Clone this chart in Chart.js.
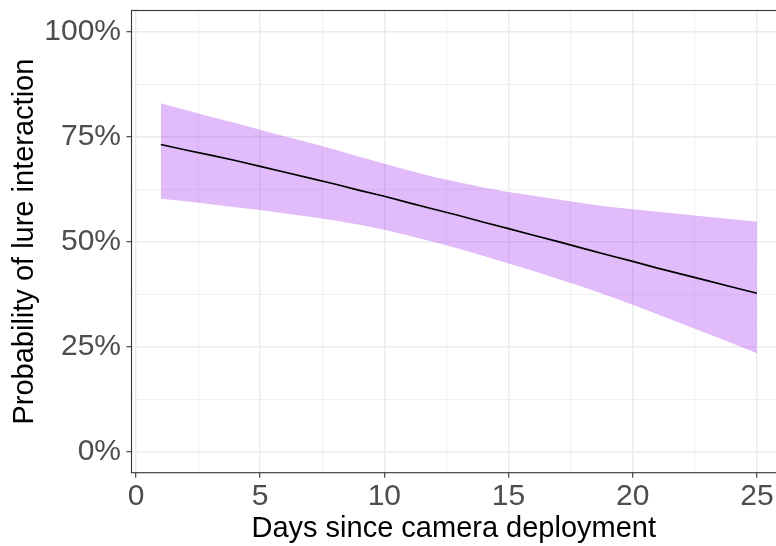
<!DOCTYPE html>
<html>
<head>
<meta charset="utf-8">
<script src="https://cdn.jsdelivr.net/npm/chart.js@4/dist/chart.umd.min.js"></script>
<style>
  html, body { margin: 0; padding: 0; background: #ffffff; overflow: hidden; }
  #wrap { width: 776px; height: 546px; position: relative; }
</style>
</head>
<body>
<div id="wrap"><canvas id="c" width="776" height="546"></canvas></div>
<script>
// Days since deployment and fitted probability of lure interaction (%)
const days = [1, 2, 3, 4, 5, 6, 7, 8, 9, 10, 11, 12, 13, 14, 15, 16, 17, 18, 19, 20, 21, 22, 23, 24, 25];
const fitPct = [73.1, 71.8, 70.6, 69.3, 67.9, 66.5, 65.1, 63.7, 62.2, 60.8, 59.2, 57.7, 56.2, 54.6, 53.1,
                51.5, 50.0, 48.4, 46.8, 45.3, 43.7, 42.2, 40.7, 39.2, 37.7];
// 95% confidence band
const upperPct = [82.9, 81.3, 79.7, 78.2, 76.6, 75.0, 73.5, 71.9, 70.2, 68.5, 66.9, 65.4, 64.1, 62.9, 61.8,
                  60.9, 60.0, 59.1, 58.3, 57.7, 57.1, 56.5, 55.9, 55.3, 54.7];
const lowerPct = [60.2, 59.6, 58.9, 58.2, 57.5, 56.7, 55.9, 55.0, 54.0, 52.8, 51.4, 49.9, 48.3, 46.6, 44.8,
                  43.0, 41.1, 39.2, 37.1, 35.0, 32.7, 30.4, 28.1, 25.8, 23.4];

// Axis ticks (major labelled, minor unlabelled)
const xTicks = [0, 5, 10, 15, 20, 25];
const xTickLabels = ['0', '5', '10', '15', '20', '25'];
const xMinor = [2.5, 7.5, 12.5, 17.5, 22.5];
const yTicks = [0, 25, 50, 75, 100];
const yTickLabels = ['0%', '25%', '50%', '75%', '100%'];
const yMinor = [12.5, 37.5, 62.5, 87.5];

const xTitle = 'Days since camera deployment';
const yTitle = 'Probability of lure interaction';

const FONT = '"Liberation Sans", Arial, Helvetica, sans-serif';
const toPts = vals => days.map((d, i) => ({ x: d, y: vals[i] }));

const isMajorX = v => xTicks.indexOf(v) !== -1;
const isMajorY = v => yTicks.indexOf(v) !== -1;

// Panel frame (top/left/bottom; right side runs off the canvas)
const panelBorder = {
  id: 'panelBorder',
  afterDraw(chart) {
    const { ctx, chartArea: a } = chart;
    ctx.save();
    ctx.strokeStyle = '#333333';
    ctx.lineWidth = 1.1;
    ctx.strokeRect(a.left, a.top, a.right - a.left + 20, a.bottom - a.top);
    ctx.restore();
  }
};

new Chart(document.getElementById('c'), {
  type: 'line',
  data: {
    datasets: [
      {
        label: 'fit',
        data: toPts(fitPct),
        borderColor: '#000000',
        borderWidth: 1.7,
        pointRadius: 0,
        fill: false,
        tension: 0
      },
      {
        label: 'upper',
        data: toPts(upperPct),
        borderWidth: 0,
        borderColor: 'rgba(0,0,0,0)',
        pointRadius: 0,
        backgroundColor: 'rgba(160,32,240,0.3)',
        fill: '+1',
        tension: 0
      },
      {
        label: 'lower',
        data: toPts(lowerPct),
        borderWidth: 0,
        borderColor: 'rgba(0,0,0,0)',
        pointRadius: 0,
        fill: false,
        tension: 0
      }
    ]
  },
  options: {
    responsive: false,
    animation: false,
    events: [],
    layout: { padding: { top: 10.5, left: 0, right: 0, bottom: 0 } },
    plugins: { legend: { display: false }, tooltip: { enabled: false } },
    scales: {
      x: {
        type: 'linear',
        min: -0.18,
        max: 25.77,
        afterBuildTicks: s => { s.ticks = xTicks.concat(xMinor).sort((a, b) => a - b).map(v => ({ value: v })); },
        afterFit: s => { s.height = 73.3; s.paddingLeft = 0; s.paddingRight = 0; },
        ticks: {
          autoSkip: false,
          maxRotation: 0,
          padding: 1,
          color: '#4D4D4D',
          font: { family: FONT, size: 30 },
          callback: v => (isMajorX(v) ? xTickLabels[xTicks.indexOf(v)] : '')
        },
        grid: {
          color: '#EBEBEB',
          lineWidth: c => (isMajorX(c.tick.value) ? 1.4 : 0.7),
          tickColor: c => (isMajorX(c.tick.value) ? '#333333' : 'rgba(0,0,0,0)'),
          tickLength: 5,
          tickWidth: 1.1
        },
        border: { display: false },
        title: {
          display: true,
          text: xTitle,
          color: '#000000',
          font: { family: FONT, size: 29 },
          padding: { top: 0, bottom: 0 }
        }
      },
      y: {
        type: 'linear',
        min: -5,
        max: 105,
        afterBuildTicks: s => { s.ticks = yTicks.concat(yMinor).sort((a, b) => a - b).map(v => ({ value: v })); },
        afterFit: s => { s.width = 131.5; s.paddingTop = 0; s.paddingBottom = 0; },
        ticks: {
          autoSkip: false,
          padding: 5.5,
          color: '#4D4D4D',
          font: { family: FONT, size: 30 },
          callback: v => (isMajorY(v) ? yTickLabels[yTicks.indexOf(v)] : '')
        },
        grid: {
          color: '#EBEBEB',
          lineWidth: c => (isMajorY(c.tick.value) ? 1.4 : 0.7),
          tickColor: c => (isMajorY(c.tick.value) ? '#333333' : 'rgba(0,0,0,0)'),
          tickLength: 5,
          tickWidth: 1.1
        },
        border: { display: false },
        title: {
          display: true,
          text: yTitle,
          color: '#000000',
          font: { family: FONT, size: 29 },
          padding: { top: 8, bottom: 0 }
        }
      }
    }
  },
  plugins: [panelBorder]
});
</script>
</body>
</html>
